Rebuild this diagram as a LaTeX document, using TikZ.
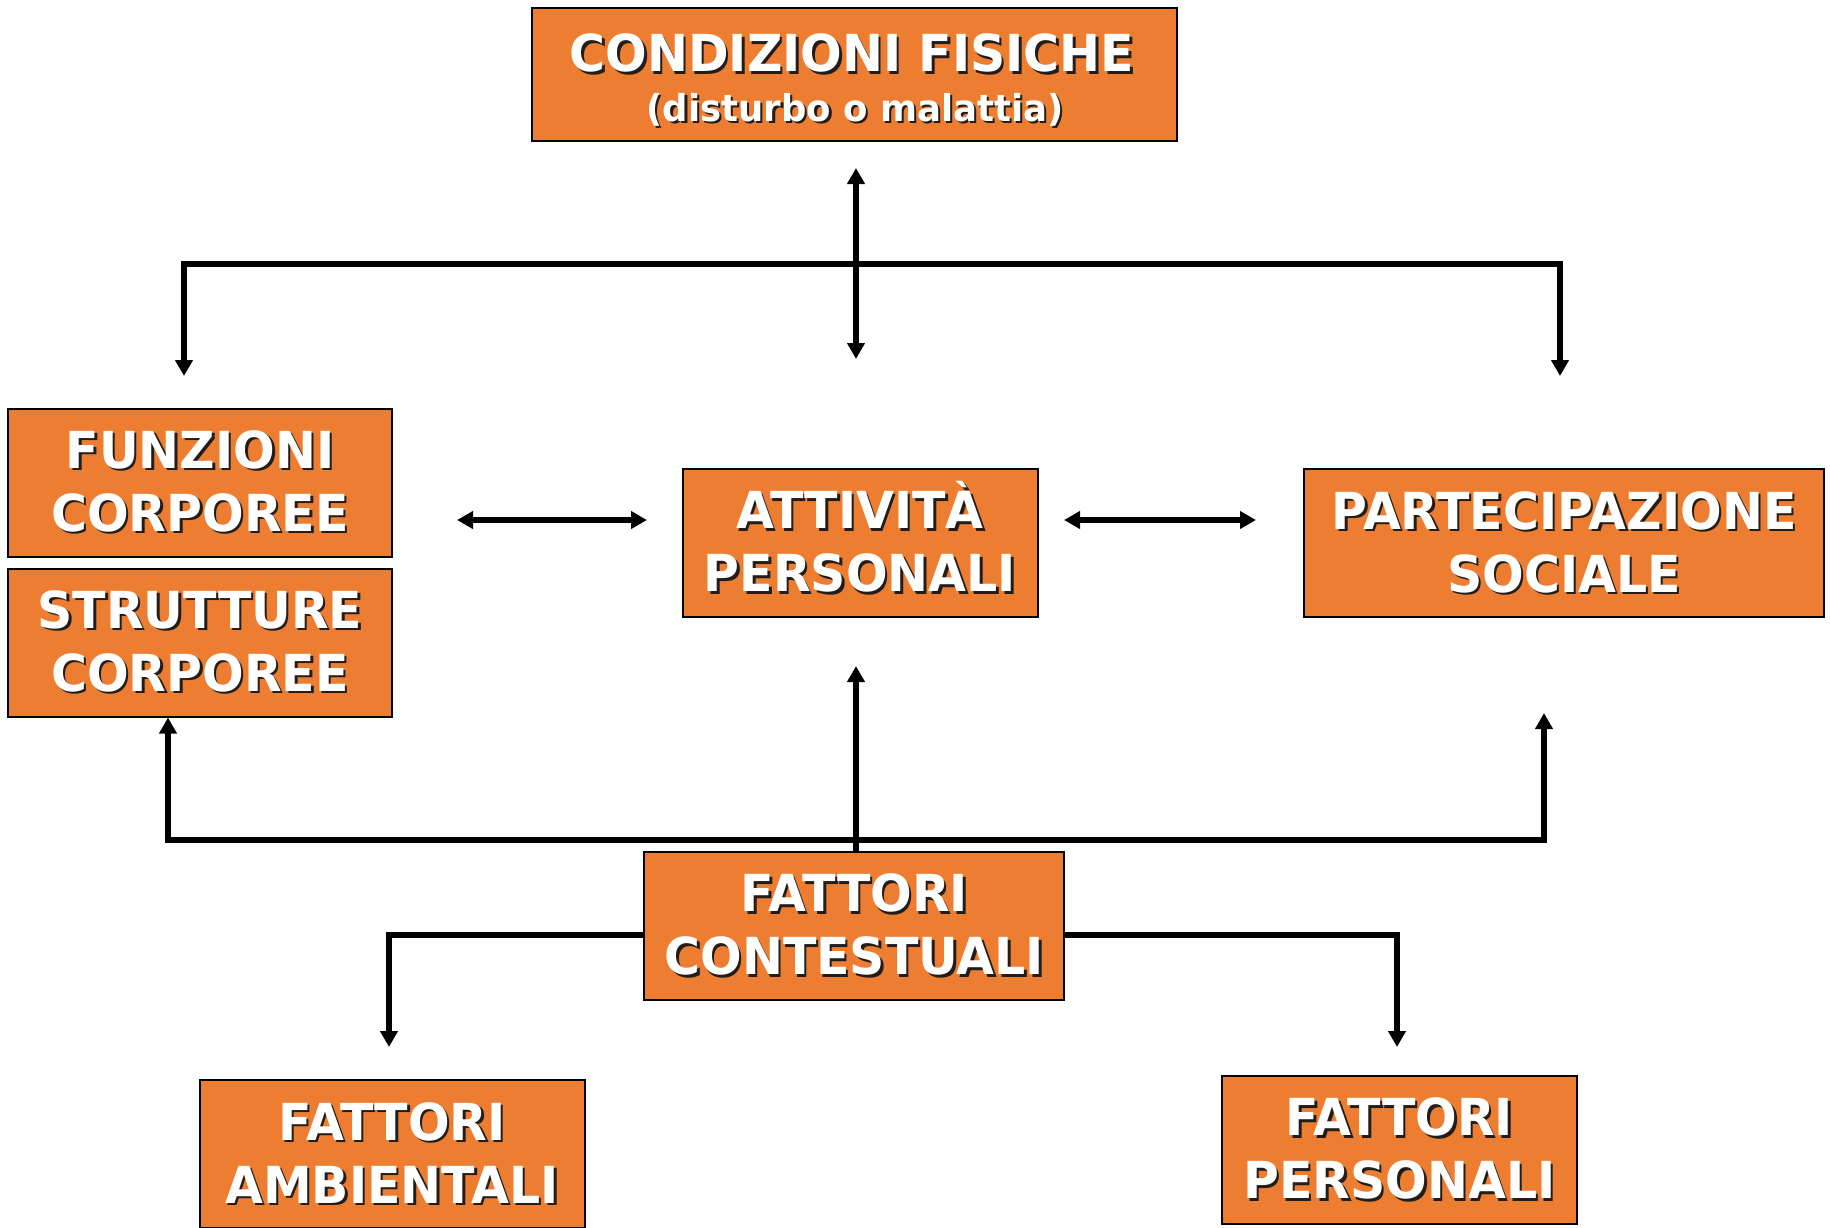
\documentclass[tikz,border=0pt]{standalone}
\usepackage{fontspec}
\newfontfamily\boxfont{DejaVu Sans}[FakeStretch=0.96]
\usetikzlibrary{arrows.meta}
\definecolor{boxorange}{RGB}{237,125,49}
\definecolor{shadowc}{RGB}{35,28,24}
\newcommand\shd[1]{\leavevmode\rlap{\kern2.5pt\raisebox{-2.5pt}{\textcolor{shadowc}{#1}}}#1}
\begin{document}
\begin{tikzpicture}[x=1pt,y=-1pt,
  box/.style={draw=black, line width=2pt, fill=boxorange, text=white, align=center,
    inner sep=0pt, font=\boxfont\bfseries\fontsize{51}{63}\selectfont},
  bigtxt/.style={text=white, inner sep=0pt, anchor=base, font=\boxfont\bfseries\fontsize{51}{63}\selectfont},
  smalltxt/.style={text=white, inner sep=0pt, anchor=base, font=\boxfont\bfseries\fontsize{37}{50}\selectfont},
  conn/.style={line width=5.5pt, draw=black},
  >={Triangle[length=16pt,width=17pt]}]
\fill[white] (0,0) rectangle (1830,1227);
\useasboundingbox (0,0) rectangle (1830,1227);

% boxes
\node[box, minimum width=645pt, minimum height=133pt] (cf) at (854,74.7) {};
\node[bigtxt] (cf1) at (852,71.7) {\shd{CONDIZIONI FISICHE}};
\node[smalltxt] (cf2) at (855,121) {\shd{(disturbo o malattia)}};

\node[box, minimum width=384pt, minimum height=148pt] (fun) at (200,482.6) {\shd{FUNZIONI}\\\shd{CORPOREE}};
\node[box, minimum width=384pt, minimum height=148pt] (str) at (200,642.5) {\shd{STRUTTURE}\\\shd{CORPOREE}};
\node[box, minimum width=355pt, minimum height=148pt] (att) at (860,543.3) {\shd{ATTIVIT\smash{À}}\\\shd{PERSONALI}};
\node[box, minimum width=520pt, minimum height=148pt] (par) at (1564,543.3) {\shd{PARTECIPAZIONE}\\\shd{SOCIALE}};
\node[box, minimum width=420pt, minimum height=148pt] (ctx) at (854.3,926) {\shd{FATTORI}\\\shd{CONTESTUALI}};
\node[box, minimum width=385pt, minimum height=148pt] (amb) at (392,1154) {\shd{FATTORI}\\\shd{AMBIENTALI}};
\node[box, minimum width=355pt, minimum height=148pt] (per) at (1399.4,1150) {\shd{FATTORI}\\\shd{PERSONALI}};

% coordinates of free ends
\coordinate (cfUp) at (856,168);
\coordinate (cfDown) at (856,359);
\coordinate (tsL) at (184,264);
\coordinate (tsR) at (1560,264);
\coordinate (tsLa) at (184,376);
\coordinate (tsRa) at (1560,376);
\coordinate (h1L) at (457,520);
\coordinate (h1R) at (647,520);
\coordinate (h2L) at (1064,520);
\coordinate (h2R) at (1256,520);
\coordinate (bsL) at (168,840);
\coordinate (bsR) at (1544,840);
\coordinate (ptUp) at (1544,713);
\coordinate (ctxTop) at (856,852);
\coordinate (attUp) at (856,666);
\coordinate (lsL) at (389,935);
\coordinate (lsLa) at (389,1047);
\coordinate (lsR) at (1397,935);
\coordinate (lsRa) at (1397,1047);

% connectors
\draw[conn,<->] (cfUp) -- (cfDown);
\draw[conn,<->] (tsLa) -- (tsL) -- (tsR) -- (tsRa);
\draw[conn,<->] (h1L) -- (h1R);
\draw[conn,<->] (h2L) -- (h2R);
\draw[conn,<->] (str.south -| bsL) -- (bsL) -- (bsR) -- (ptUp);
\draw[conn,->] (ctxTop) -- (attUp);
\draw[conn,->] (ctx.west |- lsL) -- (lsL) -- (lsLa);
\draw[conn,->] (ctx.east |- lsR) -- (lsR) -- (lsRa);
\end{tikzpicture}
\end{document}
